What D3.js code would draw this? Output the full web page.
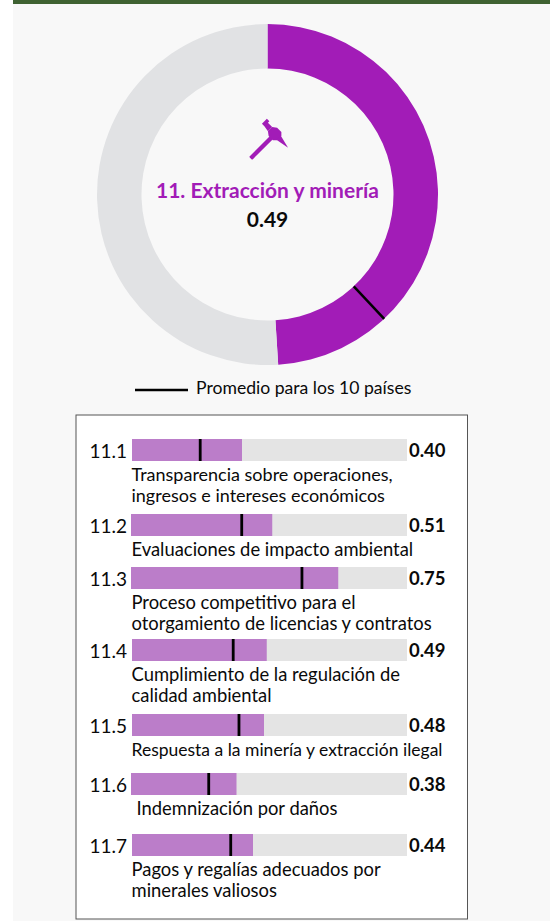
<!DOCTYPE html>
<html>
<head>
<meta charset="utf-8">
<script src="https://cdn.jsdelivr.net/npm/d3@7"></script>
<style>
    html, body { margin: 0; padding: 0; background: #fff; overflow: hidden; }
    text { font-family: Lato, sans-serif; fill: #0a0a0a; }
</style>
</head>
<body>
<div id="chart"></div>
<script>
// values
var indicatorName = '11. Extracción y minería';
var indicatorValue = 0.49;
var indicatorAverage = 0.38;
var legendLabel = 'Promedio para los 10 países';

var codes = ['11.1', '11.2', '11.3', '11.4', '11.5', '11.6', '11.7'];
var values = [0.40, 0.51, 0.75, 0.49, 0.48, 0.38, 0.44];
var averages = [0.248, 0.399, 0.618, 0.368, 0.389, 0.279, 0.359];
var labels = [
    ['Transparencia sobre operaciones,', 'ingresos e intereses económicos'],
    ['Evaluaciones de impacto ambiental'],
    ['Proceso competitivo para el', 'otorgamiento de licencias y contratos'],
    ['Cumplimiento de la regulación de', 'calidad ambiental'],
    ['Respuesta a la minería y extracción ilegal'],
    ['Indemnización por daños'],
    ['Pagos y regalías adecuados por', 'minerales valiosos']
];

// row layout, the rows are not evenly spaced in the original
var rowTops = [439, 514, 567, 639, 714, 773, 834];
var barStartNudge = [0, -1, -1, 0, 0, -1, 0];
var labelNudge = [0, 0, 0, 0, 0, 5, 0];
var labelSizes = [18, 18.4, 18.4, 18.4, 17.5, 18.4, 18.4];

var svgWidth = 550;
var svgHeight = 921;
var purple = '#a21cb7';
var barPurple = '#bb7dc9';

var svg = d3.select('#chart')
    .append('svg')
    .attr('width', svgWidth)
    .attr('height', svgHeight)
    .style('display', 'block');

// page background and top rule
svg.append('rect')
    .attr('x', 13).attr('y', 0)
    .attr('width', svgWidth - 13).attr('height', svgHeight)
    .attr('fill', '#f8f8f8');
svg.append('rect')
    .attr('x', 13).attr('y', 0)
    .attr('width', svgWidth - 13).attr('height', 4)
    .attr('fill', '#3f6232');

// donut
var cx = 267.5, cy = 194.5, outerR = 170.5, innerR = 126;
var donut = svg.append('g').attr('transform', `translate(${cx},${cy})`);

var pie = d3.pie().sort(null);
var arc = d3.arc().innerRadius(innerR).outerRadius(outerR);
var angle = d3.scaleLinear().domain([0, 1]).range([0, 2 * Math.PI]);

donut.selectAll('path')
    .data(pie([indicatorValue, 1 - indicatorValue]))
    .enter()
    .append('path')
    .attr('d', arc)
    .attr('fill', (d, i) => i === 0 ? purple : '#e1e2e4');

var a = angle(indicatorAverage);
donut.append('line')
    .attr('x1', innerR * Math.sin(a))
    .attr('y1', -innerR * Math.cos(a))
    .attr('x2', outerR * Math.sin(a))
    .attr('y2', -outerR * Math.cos(a))
    .attr('stroke', '#000')
    .attr('stroke-width', 2.5);

// pickaxe icon
var icon = svg.append('g')
    .attr('transform', 'translate(275,134) rotate(45)')
    .attr('fill', purple);
icon.append('rect').attr('x', -2.2).attr('y', 0).attr('width', 4.4).attr('height', 34.5).attr('rx', 1);
icon.append('path').attr('d', 'M-7,-3 L-3,-6 L3,-6 L6,-3 L6,3 L3,6 L-3,6 L-7,3 Z');
icon.append('path').attr('d', 'M-7,-3 L-13,-3 L-13,-5 L-16.5,-5 L-16.5,2 L-13,2 L-7,3 Z');
icon.append('path').attr('d', 'M5,-3 L19,0.5 L5,3 Z');

svg.append('text')
    .attr('x', cx).attr('y', 198)
    .attr('text-anchor', 'middle')
    .attr('font-size', 21)
    .attr('font-weight', 700)
    .style('fill', purple)
    .text(indicatorName);

svg.append('text')
    .attr('x', cx).attr('y', 227)
    .attr('text-anchor', 'middle')
    .attr('font-size', 21)
    .attr('font-weight', 700)
    .text(indicatorValue.toFixed(2));

// legend
svg.append('line')
    .attr('x1', 135).attr('x2', 188)
    .attr('y1', 390).attr('y2', 390)
    .attr('stroke', '#000')
    .attr('stroke-width', 2.5);
svg.append('text')
    .attr('x', 196).attr('y', 394)
    .attr('font-size', 17.6)
    .text(legendLabel);

// box with the sub indicators
svg.append('rect')
    .attr('x', 76).attr('y', 415)
    .attr('width', 391.5).attr('height', 504)
    .attr('fill', '#fff')
    .attr('stroke', '#555')
    .attr('stroke-width', 1);

var barHeight = 22;
var x = d3.scaleLinear().domain([0, 1]).range([132, 407]);

var rows = svg.selectAll('.row')
    .data(codes)
    .enter()
    .append('g')
    .attr('class', 'row')
    .attr('transform', (d, i) => `translate(0,${rowTops[i]})`);

rows.append('rect')
    .attr('x', x(0))
    .attr('width', x(1) - x(0))
    .attr('height', barHeight)
    .attr('fill', '#e4e4e4');

rows.append('rect')
    .attr('x', (d, i) => x(0) + barStartNudge[i])
    .attr('width', (d, i) => x(values[i]) - x(0) - barStartNudge[i])
    .attr('height', barHeight)
    .attr('fill', barPurple);

rows.append('rect')
    .attr('x', (d, i) => x(averages[i]) - 1.4)
    .attr('width', 2.8)
    .attr('height', barHeight)
    .attr('fill', '#000');

rows.append('text')
    .attr('x', 127)
    .attr('y', 18.5)
    .attr('text-anchor', 'end')
    .attr('font-size', 19)
    .text(d => d);

rows.append('text')
    .attr('x', 409)
    .attr('y', 17.5)
    .attr('font-size', 18.5)
    .attr('font-weight', 700)
    .text((d, i) => values[i].toFixed(2));

rows.each(function (d, i) {
    var row = d3.select(this);
    labels[i].forEach(function (line, j) {
        row.append('text')
            .attr('x', x(0) - 0.5 + labelNudge[i])
            .attr('y', 42 + j * 21)
            .attr('font-size', labelSizes[i])
            .text(line);
    });
});
</script>
</body>
</html>
